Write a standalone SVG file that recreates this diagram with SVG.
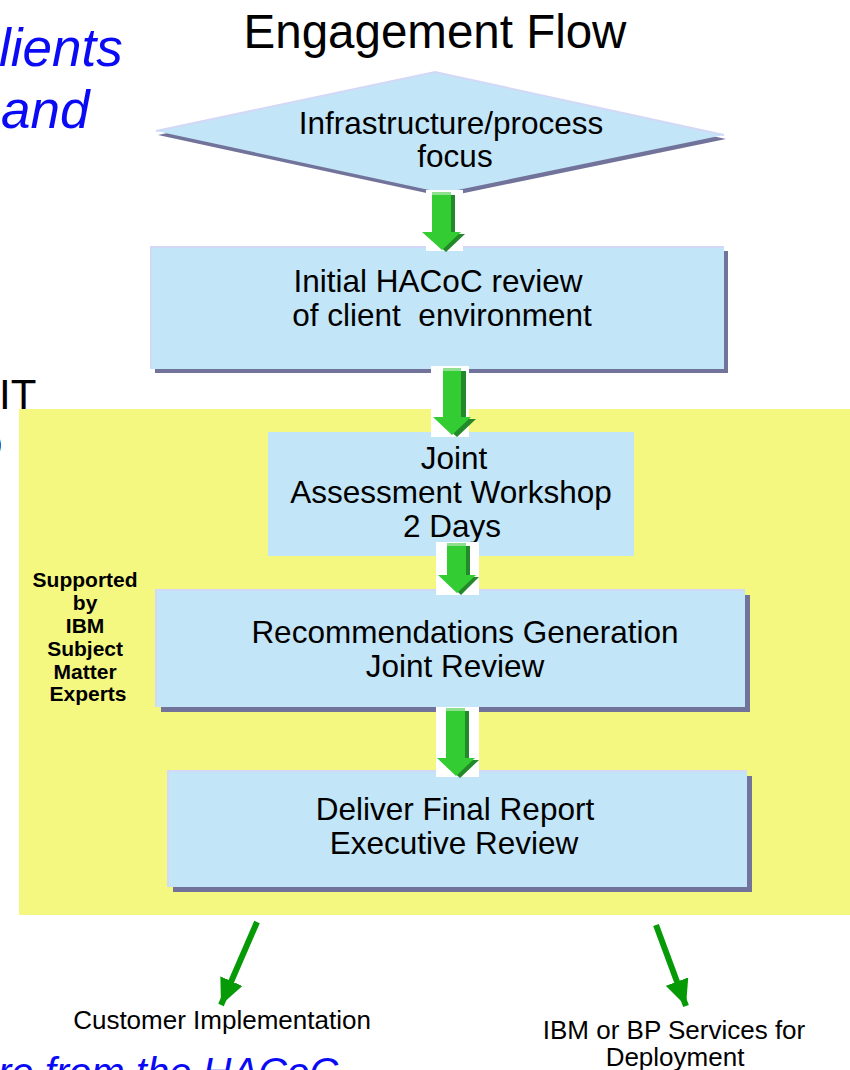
<svg xmlns="http://www.w3.org/2000/svg" width="850" height="1070" viewBox="0 0 850 1070">
  <defs>
    <marker id="greenHead" markerUnits="userSpaceOnUse" markerWidth="28" markerHeight="24" refX="26" refY="12" orient="auto">
      <path d="M0,0 L26,12 L0,24 z" fill="#069A06"/>
    </marker>
  </defs>
  <style>
    .box { fill: #C2E5F7; }
    .shadow { fill: #72739A; }
    .edge { fill: none; stroke: #D3D8F6; stroke-width: 2; }
    .label { font-family: "Liberation Sans", Arial, sans-serif; font-size: 31.5px; fill: #000; text-anchor: middle; }
    .small { font-family: "Liberation Sans", Arial, sans-serif; font-size: 26px; fill: #000; text-anchor: middle; }
    .side { font-family: "Liberation Sans", Arial, sans-serif; font-size: 21px; font-weight: bold; fill: #000; text-anchor: middle; }
    .blue { font-family: "Liberation Sans", Arial, sans-serif; font-style: italic; fill: #0A0AF5; }
    .black { font-family: "Liberation Sans", Arial, sans-serif; font-size: 42px; fill: #000; }
    .back { fill: #FFFFFF; }
    .lite { fill: #33CC33; }
    .dark { fill: #23892A; }
    .hi { fill: #8EE08E; }
    .link { stroke: #069A06; stroke-width: 6; fill: none; }
  </style>

  <rect width="850" height="1070" fill="#FFFFFF"/>

  <!-- text running in from the neighbouring slide content -->
  <g id="margin-text">
    <text class="blue" x="-1" y="66" font-size="53">lients</text>
    <text class="blue" x="1" y="128" font-size="53">and</text>
    <text class="black" x="-1" y="409">IT</text>
    <text class="black" x="-21" y="457">o</text>
    <text class="blue" x="-2" y="1086" font-size="40">re from the HACoC</text>
  </g>

  <!-- title -->
  <g id="title">
    <text x="435" y="48" font-family="Liberation Sans, Arial, sans-serif" font-size="47.5" fill="#000" text-anchor="middle">Engagement Flow</text>
  </g>

  <!-- yellow band: steps supported by subject matter experts -->
  <g id="sme-zone">
    <rect x="19" y="409" width="831" height="506" fill="#F5F880"/>
    <text class="side">
      <tspan x="88" y="587">Supported</tspan>
      <tspan x="88" y="610">by</tspan>
      <tspan x="88" y="633">IBM</tspan>
      <tspan x="88" y="656">Subject</tspan>
      <tspan x="88" y="679">Matter</tspan>
      <tspan x="88" y="701">Experts</tspan>
    </text>
  </g>

  <!-- decision: focus -->
  <g id="focus">
    <polygon class="shadow" points="437,76 726,139 445,197 158,135"/>
    <polygon class="box" points="435,72 724,135 443,193 156,131"/>
    <polyline class="edge" points="156,131 435,72 724,135"/>
    <text class="label" font-size="30.5"><tspan x="451" y="134">Infrastructure/process</tspan><tspan x="455" y="167">focus</tspan></text>
  </g>

  <!-- step 1 -->
  <g id="initial-review">
    <rect class="shadow" x="155" y="251" width="573" height="122"/>
    <rect class="box" x="151" y="247" width="573" height="122"/>
    <polyline class="edge" points="151,369 151,247 724,247"/>
    <text class="label"><tspan x="438" y="292">Initial HACoC review</tspan><tspan x="442" y="326" xml:space="preserve">of client  environment</tspan></text>
  </g>

  <!-- step 2 -->
  <g id="workshop">
    <rect class="box" x="268" y="432" width="366" height="124"/>
    <text class="label"><tspan x="454" y="469">Joint</tspan><tspan x="451" y="503">Assessment Workshop</tspan><tspan x="452" y="537">2 Days</tspan></text>
  </g>

  <!-- step 3 -->
  <g id="recommendations">
    <rect class="shadow" x="161" y="595" width="589" height="117"/>
    <rect class="box" x="156" y="590" width="589" height="117"/>
    <polyline class="edge" points="156,707 156,590 745,590"/>
    <text class="label"><tspan x="465" y="643">Recommendations Generation</tspan><tspan x="455" y="677">Joint Review</tspan></text>
  </g>

  <!-- step 4 -->
  <g id="final-report">
    <rect class="shadow" x="173" y="776" width="579" height="116"/>
    <rect class="box" x="168" y="771" width="579" height="116"/>
    <polyline class="edge" points="168,887 168,771 747,771"/>
    <text class="label"><tspan x="455" y="820">Deliver Final Report</tspan><tspan x="454" y="854">Executive Review</tspan></text>
  </g>

  <!-- outcomes -->
  <g id="customer-implementation">
    <text class="small" x="222" y="1029">Customer Implementation</text>
  </g>
  <g id="ibm-services">
    <text class="small"><tspan x="674" y="1039">IBM or BP Services for</tspan><tspan x="675" y="1066">Deployment</tspan></text>
  </g>

  <!-- connectors -->
  <g id="connectors">
    <!-- focus to initial review -->
    <g>
      <rect class="back" x="426" y="190" width="37" height="61"/>
      <polygon class="dark" points="436,195 455,195 455,234 465,234 446,252 426,234 436,234"/>
      <polygon class="lite" points="432,192 451,192 451,232 461,232 442,250 422,232 432,232"/>
      <rect class="hi" x="432" y="192" width="19" height="3"/>
    </g>
    <!-- initial review to workshop -->
    <g>
      <rect class="back" x="431" y="366" width="38" height="71"/>
      <polygon class="dark" points="447,371 466,371 466,419 476,419 457,437 437,419 447,419"/>
      <polygon class="lite" points="443,368 461,368 461,417 471,417 452,435 433,417 443,417"/>
      <rect class="hi" x="443" y="368" width="18" height="3"/>
    </g>
    <!-- workshop to recommendations -->
    <g>
      <rect class="back" x="436" y="542" width="43" height="53"/>
      <polygon class="dark" points="451,546 470,546 470,577 479,577 461,595 442,577 451,577"/>
      <polygon class="lite" points="447,543 466,543 466,575 476,575 457,593 438,575 447,575"/>
      <rect class="hi" x="447" y="543" width="19" height="3"/>
    </g>
    <!-- recommendations to final report -->
    <g>
      <rect class="back" x="436" y="707" width="43" height="70"/>
      <polygon class="dark" points="450,711 469,711 469,760 479,760 460,778 440,760 450,760"/>
      <polygon class="lite" points="446,708 465,708 465,758 475,758 456,776 437,758 446,758"/>
      <rect class="hi" x="446" y="708" width="19" height="3"/>
    </g>
    <!-- final report to outcomes -->
    <line class="link" x1="257" y1="922" x2="221" y2="1005" marker-end="url(#greenHead)"/>
    <line class="link" x1="656" y1="925" x2="686" y2="1006" marker-end="url(#greenHead)"/>
  </g>
</svg>
